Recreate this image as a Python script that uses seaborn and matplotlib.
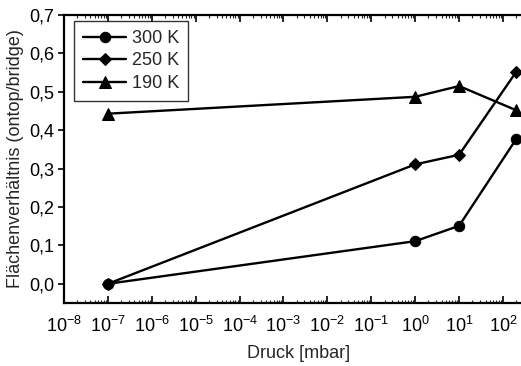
import numpy as np
import pandas as pd
import matplotlib
matplotlib.use("Agg")
import matplotlib.pyplot as plt
import matplotlib.ticker as mticker
import seaborn as sns

# Pressure points (mbar) and ontop/bridge area ratios per temperature
pressure = [1e-7, 1e0, 1e1, 2e2]
ratio_300K = [0.0, 0.111, 0.151, 0.377]
ratio_250K = [0.0, 0.311, 0.336, 0.552]
ratio_190K = [0.443, 0.487, 0.515, 0.452]
series_labels = ["300 K", "250 K", "190 K"]
y_ticks = [0.0, 0.1, 0.2, 0.3, 0.4, 0.5, 0.6, 0.7]

df = pd.DataFrame({
    "Druck": pressure * 3,
    "ratio": ratio_300K + ratio_250K + ratio_190K,
    "T": [series_labels[0]] * 4 + [series_labels[1]] * 4 + [series_labels[2]] * 4,
})

sns.set_theme(style="ticks")
plt.rcParams["font.family"] = ["Liberation Sans", "DejaVu Sans"]
plt.rcParams["mathtext.fontset"] = "custom"
plt.rcParams["mathtext.rm"] = "Liberation Sans"
plt.rcParams["mathtext.it"] = "Liberation Sans"

FS = 13

fig = plt.figure(figsize=(5.21, 3.66), dpi=100)
# decades are ~43.9 px wide; the axes run past the right border of the figure
decade_px = 43.9
x_lo, x_hi = 1e-8, 5e2
width_px = decade_px * (np.log10(x_hi) - np.log10(x_lo))
ax = fig.add_axes([64 / 521, 63 / 366, width_px / 521, 288 / 366])

markers = {"300 K": "o", "250 K": "D", "190 K": "^"}
sizes = {"300 K": 7.5, "250 K": 6.5, "190 K": 8.5}
for lab in series_labels:
    sub = df[df["T"] == lab]
    sns.lineplot(data=sub, x="Druck", y="ratio", ax=ax, color="black",
                 marker=markers[lab], markersize=sizes[lab], linewidth=1.7,
                 markeredgecolor="black", label=lab, clip_on=False, zorder=3)

ax.set_xscale("log")
ax.set_xlim(x_lo, x_hi)
ax.set_ylim(-0.05, 0.7)

ax.xaxis.set_major_locator(mticker.LogLocator(base=10, numticks=20))
ax.xaxis.set_minor_locator(mticker.LogLocator(base=10, subs=np.arange(2, 10), numticks=20))
ax.xaxis.set_minor_formatter(mticker.NullFormatter())
ax.xaxis.set_major_formatter(mticker.FuncFormatter(
    lambda v, p: r"$10^{%d}$" % int(round(np.log10(v)))))

ax.set_yticks(y_ticks)
ax.yaxis.set_major_formatter(mticker.FuncFormatter(lambda v, p: f"{v:.1f}".replace(".", ",")))

ax.tick_params(axis="x", which="major", direction="in", length=5, width=1.2,
               top=True, labelsize=FS, colors="black", pad=9)
ax.tick_params(axis="x", which="minor", direction="in", length=2.5, width=0.8, top=True)
ax.tick_params(axis="y", which="major", direction="out", length=4, width=1.2,
               labelsize=FS, colors="black", pad=3)

for side in ["left", "bottom", "top", "right"]:
    ax.spines[side].set_linewidth(1.6)
    ax.spines[side].set_color("black")

ax.set_xlabel("Druck [mbar]", fontsize=FS, labelpad=7)
ax.set_ylabel("Flächenverhältnis (ontop/bridge)", fontsize=FS, labelpad=4)

leg = ax.legend(loc="upper left", bbox_to_anchor=(10 / width_px, 1 - 6 / 288),
                frameon=True, fancybox=False, edgecolor="black", fontsize=FS,
                handlelength=2.4, handletextpad=0.3, borderpad=0.5,
                labelspacing=0.3, borderaxespad=0)
leg.get_frame().set_linewidth(1.0)

fig.savefig("out.png", dpi=100)
